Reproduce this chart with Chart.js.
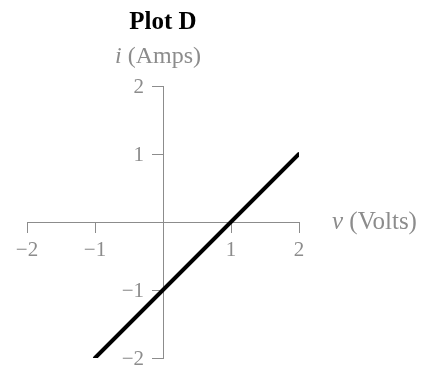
<!DOCTYPE html>
<html>
<head>
<meta charset="utf-8">
<script src="https://cdn.jsdelivr.net/npm/chart.js@4"></script>
<style>
  html, body { margin: 0; padding: 0; background: #ffffff; }
  #wrap { width: 425px; height: 366px; }
</style>
</head>
<body>
<div id="wrap"><canvas id="c" width="425" height="366"></canvas></div>
<script>
// ---- data ----
const titleText = 'Plot D';
const vValues = [-1, 2];      // voltage (x)
const iValues = [-2, 1];      // current (y)
const xTickValues = [-2, -1, 1, 2];
const yTickValues = [-2, -1, 1, 2];
const xAxisName = ['v', ' (Volts)'];
const yAxisName = ['i', ' (Amps)'];

const GRAY = '#8c8c8c';
const SERIF = '"Liberation Serif", "DejaVu Serif", serif';

const points = vValues.map((v, k) => ({ x: v, y: iValues[k] }));
const fmt = (v) => (v < 0 ? '\u2212' + Math.abs(v) : String(v));

function zeroPad(scale) {
  scale.paddingTop = 0; scale.paddingBottom = 0;
  scale.paddingLeft = 0; scale.paddingRight = 0;
}

const axisText = {
  id: 'axisText',
  beforeDatasetsDraw(chart) {
    const ctx = chart.ctx;
    const xs = chart.scales.x, ys = chart.scales.y;
    ctx.save();
    ctx.fillStyle = GRAY;
    // y tick labels, left of the centred y axis (positions from the y scale)
    ctx.font = '21px ' + SERIF;
    ctx.textAlign = 'right';
    ctx.textBaseline = 'middle';
    const ax = xs.getPixelForValue(0);
    const tl = ys.options.grid.tickLength;
    ys.ticks.forEach(t => {
      ctx.fillText(fmt(t.value), ax - tl - 8, ys.getPixelForValue(t.value) + 1);
    });
    ctx.restore();
  },
  afterDraw(chart) {
    const ctx = chart.ctx;
    const xs = chart.scales.x, ys = chart.scales.y;
    ctx.save();
    ctx.fillStyle = GRAY;
    ctx.textBaseline = 'middle';
    // x axis name, right of the axis end
    let x = xs.getPixelForValue(2) + 33;
    let y = ys.getPixelForValue(0);
    ctx.textAlign = 'left';
    ctx.font = 'italic 25px ' + SERIF;
    ctx.fillText(xAxisName[0], x, y);
    x += ctx.measureText(xAxisName[0]).width;
    ctx.font = '25px ' + SERIF;
    ctx.fillText(xAxisName[1], x, y);
    // y axis name, above the axis top
    ctx.font = 'italic 24px ' + SERIF;
    const w1 = ctx.measureText(yAxisName[0]).width;
    ctx.font = '24px ' + SERIF;
    const w2 = ctx.measureText(yAxisName[1]).width;
    const cx = xs.getPixelForValue(0) - 5;
    const cy = ys.getPixelForValue(2) - 29;
    const sx = cx - (w1 + w2) / 2;
    ctx.font = 'italic 24px ' + SERIF;
    ctx.fillText(yAxisName[0], sx, cy);
    ctx.font = '24px ' + SERIF;
    ctx.fillText(yAxisName[1], sx + w1, cy);
    ctx.restore();
  }
};

new Chart(document.getElementById('c'), {
  type: 'scatter',
  data: {
    datasets: [{
      data: points,
      showLine: true,
      borderColor: '#000000',
      borderWidth: 4,
      borderCapStyle: 'round',
      pointRadius: 0,
      pointHoverRadius: 0,
      fill: false
    }]
  },
  options: {
    responsive: false,
    animation: false,
    layout: { padding: { left: 27, right: 126, top: 0, bottom: 8 } },
    plugins: {
      legend: { display: false },
      tooltip: { enabled: false },
      title: {
        display: true,
        text: titleText,
        color: '#000000',
        font: { family: SERIF, size: 25, weight: 'bold', lineHeight: 1.2 },
        padding: { top: 8, bottom: 48 }
      }
    },
    scales: {
      x: {
        type: 'linear',
        position: { y: 0 },
        min: -2, max: 2,
        afterBuildTicks: (s) => { s.ticks = xTickValues.map(v => ({ value: v })); },
        afterFit: zeroPad,
        border: { display: true, color: GRAY, width: 1 },
        grid: { drawOnChartArea: false, drawTicks: true, tickLength: 10, color: GRAY, lineWidth: 1 },
        ticks: {
          color: GRAY,
          padding: 6,
          maxRotation: 0,
          font: { family: SERIF, size: 21 },
          callback: (v) => fmt(v)
        }
      },
      y: {
        type: 'linear',
        position: { x: 0 },
        min: -2, max: 2,
        afterBuildTicks: (s) => { s.ticks = yTickValues.map(v => ({ value: v })); },
        afterFit: zeroPad,
        border: { display: true, color: GRAY, width: 1 },
        grid: { drawOnChartArea: false, drawTicks: true, tickLength: 11, color: GRAY, lineWidth: 1 },
        ticks: { display: false }
      }
    }
  },
  plugins: [axisText]
});
</script>
</body>
</html>
